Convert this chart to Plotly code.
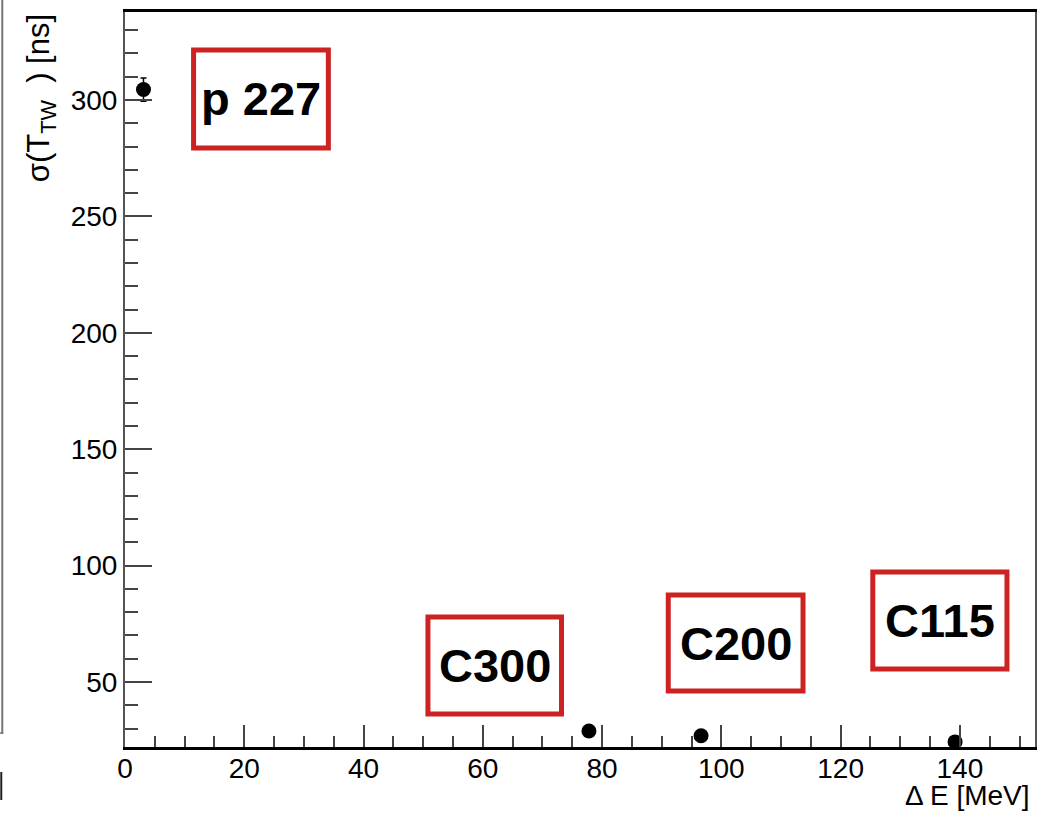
import plotly.graph_objects as go

# ---- data ----
delta_e = [3.1, 77.8, 96.6, 139.2]          # MeV
sigma_tw = [304.5, 29.0, 26.9, 24.3]        # ns
sigma_err = [5.0, 1.0, 1.0, 1.0]

labels = ["p 227", "C300", "C200", "C115"]
# label boxes in data coordinates: (x0, x1, y0, y1)
label_boxes = [
    (11.5, 34.1, 279.4, 321.5),
    (50.8, 73.2, 36.3, 77.9),
    (91.1, 113.7, 46.1, 87.4),
    (125.4, 147.9, 55.6, 97.3),
]

x_range = [0, 152.6]
y_range = [22.1, 337.8]

W, H = 1044, 813
ML, MR, MT, MB = 125, 7, 12, 66
plot_w = W - ML - MR
plot_h = H - MT - MB

FONT = "Liberation Sans, Arial, Helvetica, sans-serif"
RED = "#cc2222"

fig = go.Figure()
fig.add_trace(go.Scatter(
    x=delta_e, y=sigma_tw, mode="markers",
    marker=dict(color="black", size=15),
    error_y=dict(type="data", array=sigma_err, visible=True,
                 color="black", thickness=1.5, width=3),
    showlegend=False,
))

shapes = []
annotations = []
for lab, (x0, x1, y0, y1) in zip(labels, label_boxes):
    shapes.append(dict(type="rect", xref="x", yref="y", x0=x0, x1=x1, y0=y0, y1=y1,
                       line=dict(color=RED, width=5), fillcolor="white", layer="above"))
    annotations.append(dict(xref="x", yref="y", x=(x0 + x1) / 2, y=(y0 + y1) / 2,
                            text="<b>" + lab + "</b>", showarrow=False,
                            font=dict(family=FONT, size=47, color="black"),
                            xanchor="center", yanchor="middle"))


def px_x(p):
    return (p - ML) / plot_w


def px_y(p):
    return (H - MB - p) / plot_h


# axis titles
annotations.append(dict(xref="paper", yref="paper", x=px_x(1034), y=px_y(813),
                        text="Δ E [MeV]", showarrow=False, xanchor="right", yanchor="bottom",
                        font=dict(family=FONT, size=28, color="black")))
annotations.append(dict(xref="paper", yref="paper", x=px_x(41), y=1.0,
                        text="σ(T<sub>TW</sub>  ) [ns]", showarrow=False, textangle=-90,
                        xanchor="center", yanchor="top",
                        font=dict(family=FONT, size=31, color="black")))

# edge artefacts at the far left of the picture
shapes.append(dict(type="line", xref="paper", yref="paper", x0=px_x(2), x1=px_x(2),
                   y0=px_y(0), y1=px_y(733), line=dict(color="#777777", width=2)))
shapes.append(dict(type="line", xref="paper", yref="paper", x0=px_x(0), x1=px_x(3),
                   y0=px_y(733), y1=px_y(733), line=dict(color="#777777", width=2)))
shapes.append(dict(type="line", xref="paper", yref="paper", x0=px_x(1), x1=px_x(1),
                   y0=px_y(772), y1=px_y(800), line=dict(color="#222222", width=2)))

fig.update_layout(
    width=W, height=H,
    margin=dict(l=ML, r=MR, t=MT, b=MB, pad=0),
    paper_bgcolor="white", plot_bgcolor="white",
    font=dict(family=FONT, size=28, color="black"),
    shapes=shapes, annotations=annotations,
    xaxis=dict(range=x_range, tick0=0, dtick=20, ticks="inside", ticklen=22,
               tickcolor="#444444", tickwidth=1.5, ticklabelstandoff=-5,
               minor=dict(dtick=5, ticks="inside", ticklen=11, tickcolor="#444444", tickwidth=1.5),
               showgrid=False, zeroline=False, showline=True, linecolor="black", linewidth=2.5,
               mirror=True, tickfont=dict(family=FONT, size=28, color="black")),
    yaxis=dict(range=y_range, tick0=0, dtick=50, ticks="inside", ticklen=27,
               tickcolor="#444444", tickwidth=1.5,
               minor=dict(dtick=10, ticks="inside", ticklen=13, tickcolor="#444444", tickwidth=1.5),
               showgrid=False, zeroline=False, showline=True, linecolor="#555555", linewidth=2,
               mirror=True, tickfont=dict(family=FONT, size=28, color="black")),
)

fig.write_html("out.html")
